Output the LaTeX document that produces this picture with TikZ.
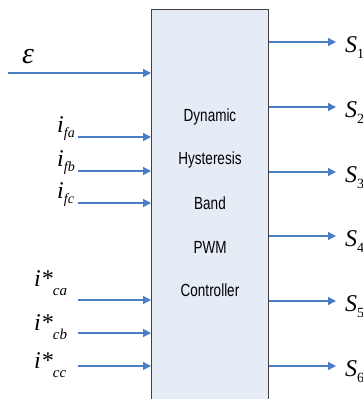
\documentclass[tikz,border=0pt]{standalone}
\usepackage{fontspec}
\setmainfont{Liberation Serif}
\newfontfamily\arialf{Liberation Sans}
\usetikzlibrary{arrows.meta}
\definecolor{arrblue}{HTML}{4A7EC4}
\definecolor{boxfill}{HTML}{E6ECF6}
\definecolor{boxline}{HTML}{404040}
\newcommand{\subx}[1]{\raisebox{-5pt}{\fontsize{14}{14}\selectfont #1}}
\newcommand{\subn}[1]{\raisebox{-6pt}{\fontsize{14}{14}\selectfont\upshape #1}}
\newcommand{\suby}[1]{\raisebox{-9pt}{\fontsize{15}{15}\selectfont #1}}
\begin{document}
\begin{tikzpicture}[x=1pt,y=-1pt,
 arr/.style={draw=arrblue, line width=1.3pt, -{Triangle[length=8pt,width=8pt]}},
 ctext/.style={font=\arialf\fontsize{13.5}{15}\selectfont, inner sep=0pt},
 lbl/.style={font=\fontsize{24}{26}\selectfont\itshape, inner sep=0pt, anchor=base west}]
\useasboundingbox (0,0) rectangle (363,399);
\node[draw=boxline, fill=boxfill, line width=1.2pt, minimum width=117pt, minimum height=410pt, anchor=north west, inner sep=0pt] (ctrl) at (151,9) {};
% box text
\node[ctext] (t1) at (210,117) {\scalebox{1}[1.3]{Dynamic}};
\node[ctext] (t2) at (210,160) {\scalebox{1}[1.3]{Hysteresis}};
\node[ctext] (t3) at (210,203) {\scalebox{1}[1.3]{Band}};
\node[ctext] (t4) at (210,247) {\scalebox{1}[1.3]{PWM}};
\node[ctext] (t5) at (210,290) {\scalebox{1}[1.3]{Controller}};
% inputs
\coordinate (ein) at (8,73);
\draw[arr] (ein) -- (ein -| ctrl.west);
\node[font=\fontsize{30}{32}\selectfont\itshape, inner sep=0pt] (eps) at (28,57) {ε};
\coordinate (fa) at (78,137);
\coordinate (fb) at (78,171);
\coordinate (fc) at (78,203);
\coordinate (ca) at (78,300);
\coordinate (cb) at (78,333);
\coordinate (cc) at (78,366);
\foreach \c in {fa,fb,fc,ca,cb,cc} {\draw[arr] (\c) -- (\c -| ctrl.west);}
\node[lbl] (lfa) at (57,132) {i\subx{fa}};
\node[lbl] (lfb) at (57,166) {i\subx{fb}};
\node[lbl] (lfc) at (57,198) {i\subx{fc}};
\node[lbl] (lca) at (34,286) {i*\suby{ca}};
\node[lbl] (lcb) at (34,330) {i*\suby{cb}};
\node[lbl] (lcc) at (34,368) {i*\suby{cc}};
% outputs
\foreach \n/\y in {1/42,2/107,3/172,4/236,5/301,6/366} {
  \coordinate (s\n) at (336,\y);
  \draw[arr] (s\n -| ctrl.east) -- (s\n);
  \node[lbl] (ls\n) at (345,\y+10) {S\subn{\n}};
}
\end{tikzpicture}
\end{document}
